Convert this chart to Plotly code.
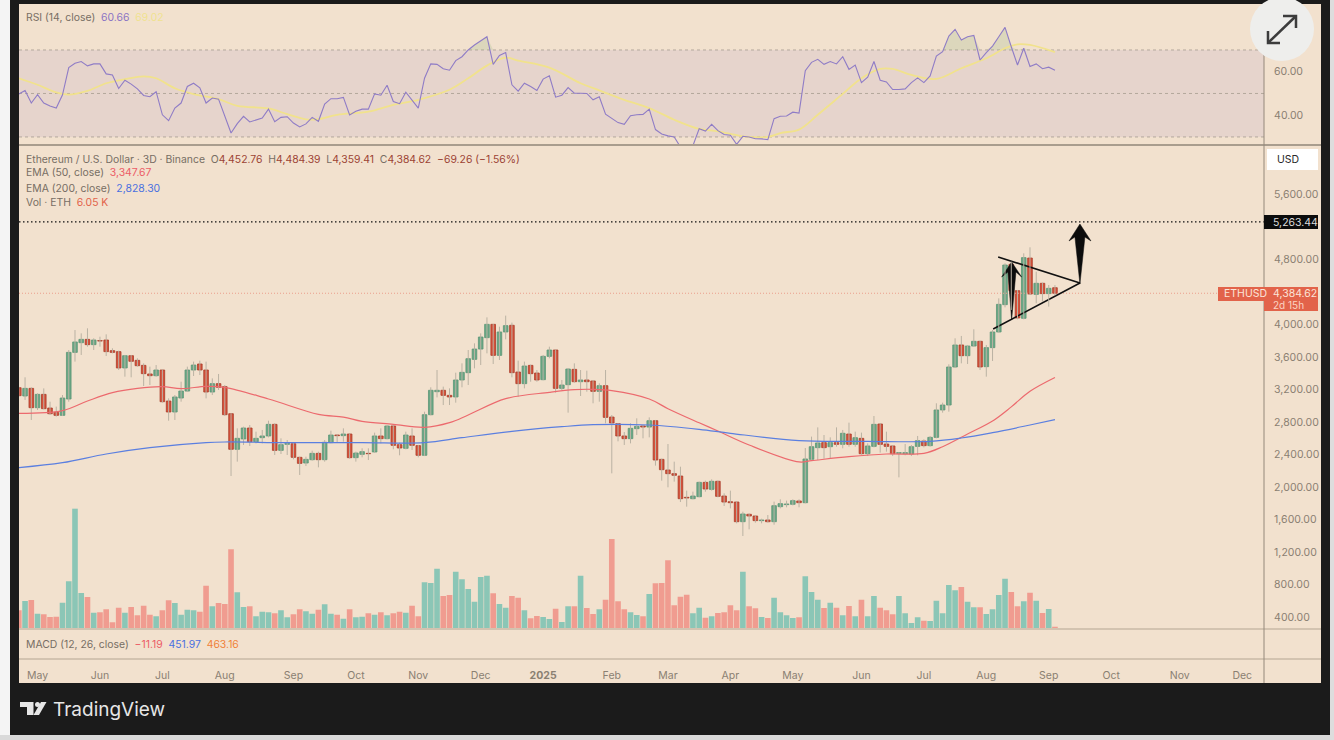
import plotly.graph_objects as go

W, H = 1334, 740

# ETH/USD 3D bars
opens = [
    3222, 3120, 3214, 2976, 3140, 2972, 2919, 2882, 3083, 3657,
    3776, 3817, 3752, 3801, 3809, 3678, 3666, 3465, 3616, 3559,
    3497, 3391, 3370, 3440, 3058, 2923, 3095, 3181, 3440, 3514,
    3440, 3169, 3272, 3235, 2902, 2464, 2591, 2726, 2558, 2607,
    2628, 2771, 2451, 2525, 2533, 2365, 2295, 2336, 2414, 2336,
    2546, 2640, 2632, 2652, 2361, 2402, 2414, 2431, 2628, 2595,
    2751, 2521, 2476, 2628, 2509, 2390, 2890, 3173, 3190, 3128,
    3108, 3317, 3407, 3571, 3698, 3838, 4002, 3620, 3908, 3990,
    3415, 3272, 3497, 3403, 3321, 3608, 3686, 3214, 3259, 3448,
    3296, 3317, 3305, 3177, 3247, 2861, 2779, 2628, 2595, 2718,
    2751, 2738, 2816, 2340, 2209, 2164, 2135, 1873, 1856, 1881,
    2057, 1971, 2070, 1889, 1819, 1815, 1573, 1664, 1643, 1586,
    1594, 1573, 1758, 1783, 1787, 1828, 1807, 2341, 2484, 2546,
    2496, 2546, 2525, 2652, 2525, 2599, 2410, 2500, 2775, 2529,
    2505, 2414, 2410, 2406, 2500, 2566, 2509, 2611, 2948, 3009,
    3477, 3748, 3616, 3735, 3793, 3481, 3715, 3908, 4244, 4741,
    4416, 4076, 4818, 4371, 4507, 4380, 4452.76,
]
highs = [
    3235, 3350, 3227, 3153, 3214, 3050, 2989, 3132, 3686, 3932,
    3891, 3953, 3830, 3850, 3879, 3707, 3678, 3625, 3625, 3584,
    3522, 3481, 3501, 3448, 3091, 3132, 3296, 3481, 3543, 3555,
    3543, 3337, 3391, 3255, 2907, 2722, 2742, 2763, 2681, 2702,
    2816, 2784, 2599, 2578, 2546, 2373, 2373, 2447, 2435, 2578,
    2693, 2648, 2722, 2660, 2435, 2476, 2476, 2669, 2722, 2763,
    2763, 2546, 2681, 2722, 2517, 2927, 3227, 3440, 3235, 3214,
    3407, 3522, 3686, 3768, 3891, 4088, 4006, 3973, 4109, 4023,
    3555, 3543, 3506, 3440, 3625, 3727, 3694, 3317, 3460, 3522,
    3440, 3432, 3317, 3276, 3440, 2886, 2784, 2677, 2784, 2845,
    2763, 2857, 2825, 2349, 2529, 2312, 2250, 1955, 1943, 2066,
    2078, 2094, 2078, 1922, 1955, 1824, 1696, 1676, 1655, 1610,
    1655, 1820, 1848, 1832, 1848, 1848, 2480, 2620, 2734, 2640,
    2611, 2734, 2702, 2792, 2681, 2669, 2537, 2874, 2784, 2681,
    2517, 2428, 2529, 2517, 2628, 2587, 2628, 3030, 3038, 3510,
    3830, 3859, 3748, 3941, 3801, 3748, 3932, 4322, 4753, 4773,
    4425, 4876, 4950, 4650, 4515, 4486, 4484.39,
]
lows = [
    3112, 3071, 2825, 2948, 2956, 2886, 2866, 2874, 3050, 3543,
    3625, 3727, 3686, 3727, 3612, 3645, 3440, 3358, 3350, 3481,
    3243, 3255, 3358, 3038, 2816, 2825, 3050, 3173, 3366, 3378,
    3091, 3132, 3194, 2874, 2135, 2312, 2517, 2505, 2537, 2537,
    2611, 2394, 2406, 2394, 2340, 2148, 2258, 2324, 2242, 2312,
    2537, 2546, 2558, 2349, 2312, 2365, 2332, 2422, 2537, 2587,
    2464, 2390, 2464, 2455, 2365, 2381, 2882, 3103, 3009, 3009,
    3038, 3227, 3255, 3460, 3501, 3645, 3514, 3563, 3817, 3350,
    3112, 3214, 3296, 3296, 3313, 3584, 3161, 3194, 2915, 3284,
    3120, 3173, 3030, 3050, 2784, 2168, 2562, 2517, 2537, 2640,
    2599, 2611, 2263, 2078, 1996, 2066, 1815, 1758, 1848, 1873,
    1942, 1955, 1873, 1766, 1737, 1553, 1397, 1479, 1561, 1553,
    1561, 1536, 1737, 1750, 1774, 1750, 1799, 2324, 2332, 2349,
    2349, 2496, 2476, 2496, 2496, 2398, 2381, 2488, 2423, 2435,
    2381, 2119, 2390, 2381, 2390, 2488, 2496, 2599, 2915, 2927,
    3469, 3522, 3514, 3727, 3440, 3358, 3551, 3900, 4211, 4179,
    4064, 4064, 4363, 4261, 4281, 4220, 4359.41,
]
closes = [
    3124, 3214, 2976, 3140, 2964, 2902, 2882, 3095, 3657, 3785,
    3817, 3752, 3809, 3797, 3666, 3657, 3465, 3616, 3547, 3493,
    3395, 3370, 3440, 3050, 2923, 3108, 3181, 3440, 3501, 3440,
    3169, 3272, 3227, 2890, 2464, 2599, 2726, 2558, 2599, 2628,
    2771, 2451, 2521, 2537, 2365, 2291, 2340, 2414, 2336, 2550,
    2640, 2632, 2652, 2361, 2418, 2435, 2410, 2628, 2595, 2751,
    2513, 2480, 2640, 2513, 2390, 2890, 3190, 3190, 3128, 3108,
    3317, 3411, 3579, 3698, 3846, 4002, 3620, 3908, 3986, 3407,
    3272, 3489, 3395, 3317, 3608, 3686, 3214, 3255, 3452, 3296,
    3317, 3296, 3177, 3247, 2857, 2788, 2628, 2595, 2722, 2747,
    2738, 2816, 2332, 2213, 2164, 2144, 1856, 1865, 1889, 2057,
    1975, 2070, 1885, 1815, 1807, 1573, 1668, 1643, 1586, 1594,
    1573, 1770, 1795, 1791, 1832, 1807, 2345, 2496, 2542, 2484,
    2546, 2525, 2661, 2525, 2607, 2410, 2505, 2771, 2525, 2500,
    2410, 2423, 2423, 2496, 2570, 2509, 2611, 2948, 3009, 3477,
    3748, 3616, 3735, 3793, 3477, 3715, 3908, 4248, 4732, 4416,
    4080, 4823, 4375, 4507, 4380, 4445, 4384.62,
]
volume_k = [
    55, 83, 86, 45, 43, 35, 36, 78, 142, 360,
    107, 95, 48, 49, 58, 19, 63, 48, 65, 40,
    69, 42, 37, 55, 85, 77, 42, 57, 55, 51,
    129, 67, 77, 74, 238, 109, 65, 67, 37, 51,
    49, 46, 55, 34, 43, 58, 52, 45, 57, 73,
    45, 42, 30, 58, 34, 36, 46, 42, 49, 40,
    46, 51, 48, 69, 37, 139, 137, 180, 98, 101,
    171, 148, 119, 81, 155, 159, 106, 74, 63, 98,
    93, 55, 31, 38, 35, 29, 60, 20, 67, 67,
    159, 62, 44, 58, 87, 269, 82, 58, 49, 41,
    37, 104, 136, 137, 205, 70, 96, 102, 46, 63,
    33, 37, 47, 49, 70, 55, 171, 67, 61, 35,
    32, 93, 49, 40, 32, 34, 157, 110, 87, 62,
    78, 63, 40, 68, 37, 87, 37, 98, 63, 55,
    43, 98, 46, 17, 34, 24, 23, 84, 46, 131,
    115, 125, 81, 64, 64, 44, 58, 101, 150, 110,
    67, 82, 108, 84, 47, 59, 6.05,
]
rsi = [
    49.8, 51.4, 45.6, 49.5, 45.6, 44.2, 43.3, 49.4, 61.9, 63.9,
    64.7, 62.7, 63.6, 63.6, 59.0, 58.5, 52.3, 56.1, 54.3, 52.1,
    49.1, 48.5, 50.8, 40.2, 37.5, 43.3, 45.6, 53.2, 54.7, 52.6,
    45.6, 47.9, 47.4, 39.5, 31.8, 36.1, 39.5, 36.9, 37.9, 38.7,
    42.8, 37.0, 39.0, 39.3, 36.4, 34.6, 36.0, 39.0, 37.2, 45.1,
    47.6, 47.6, 48.2, 40.1, 41.8, 42.8, 42.8, 49.8, 49.2, 53.8,
    46.3, 45.3, 50.6, 47.1, 43.3, 57.0, 63.6, 63.4, 61.4, 60.7,
    65.1, 66.9, 70.0, 72.3, 74.1, 76.1, 63.4, 67.5, 68.8, 54.0,
    51.1, 54.7, 53.2, 51.4, 56.6, 58.1, 48.3, 49.2, 52.7, 50.1,
    50.1, 50.0, 47.1, 48.5, 40.5, 38.5, 36.6, 35.8, 39.8, 40.2,
    40.4, 42.8, 33.4, 31.4, 30.5, 30.0, 25.4, 25.4, 26.0, 33.8,
    32.7, 35.8, 32.9, 31.1, 30.8, 26.6, 30.3, 30.0, 29.2, 29.1,
    28.8, 38.4, 39.5, 39.6, 41.4, 41.0, 60.5, 64.3, 65.7, 63.4,
    64.7, 63.6, 66.9, 61.1, 63.1, 55.0, 57.5, 64.7, 56.1, 55.3,
    51.8, 51.8, 52.1, 55.0, 57.2, 55.0, 58.1, 67.2, 69.2, 76.4,
    79.5, 74.6, 76.1, 76.7, 65.4, 68.8, 71.8, 76.1, 80.4, 71.5,
    63.1, 70.8, 62.4, 63.6, 61.4, 62.1, 60.66,
]
rsi_ma_bars = [
    0, 3, 6, 8, 11, 14, 17, 20, 22, 25, 28, 32, 35, 40, 43, 46, 48, 51, 56, 60,
    64, 69, 72, 75, 78, 80, 85, 90, 93, 97, 101, 105, 109, 112, 116, 120, 122,
    125, 128, 132, 135, 138, 140, 143, 147, 151, 155, 158, 160, 162, 166,
]
rsi_ma = [
    57.0, 54.0, 50.5, 49.5, 51.2, 54.7, 56.6, 57.9, 57.0, 52.4, 49.7, 47.4, 44.3,
    43.1, 40.5, 38.1, 38.2, 40.2, 41.6, 44.8, 47.1, 51.7, 57.0, 62.8, 66.5, 65.1,
    61.9, 54.7, 51.4, 47.1, 43.3, 37.9, 33.7, 32.6, 30.3, 30.0, 31.8, 33.4, 40.2,
    49.8, 57.0, 61.3, 61.3, 58.5, 56.7, 61.6, 66.2, 70.8, 72.6, 72.3, 69.02,
]
ema50_bars = [
    0, 7, 11, 15, 19, 23, 26, 30, 33, 40, 48, 52, 55, 60, 65, 69, 72, 78, 85, 89, 92,
    95, 101, 104, 109, 112, 117, 125, 127, 133, 139, 145, 148, 152, 156, 159, 162, 166,
]
ema50 = [
    2907, 2940, 3058, 3161, 3214, 3235, 3210, 3239, 3227, 3083, 2894, 2861, 2808,
    2771, 2734, 2792, 2886, 3087, 3165, 3198, 3202, 3186, 3083, 2964, 2790, 2689,
    2517, 2308, 2324, 2373, 2406, 2414, 2496, 2652, 2812, 2986, 3178, 3347.67,
]
ema200_bars = [
    0, 7, 14, 21, 30, 33, 43, 55, 65, 71, 79, 87, 92, 101, 109, 114, 125, 136, 146,
    151, 156, 162, 166,
]
ema200 = [
    2238, 2299, 2406, 2484, 2546, 2554, 2546, 2546, 2546, 2607, 2685, 2742, 2767,
    2763, 2710, 2661, 2570, 2562, 2562, 2603, 2669, 2763, 2828.30,
]
price_ticks = [400, 800, 1200, 1600, 2000, 2400, 2800, 3200, 3600, 4000, 4800, 5600]
rsi_ticks = [40, 60]
month_bars = [3, 13, 23, 33, 44, 54, 64, 74, 84, 95, 104, 114, 124, 135, 145, 155, 165, 175, 186, 196]
month_labels = [
    "May", "Jun", "Jul", "Aug", "Sep", "Oct", "Nov", "Dec", "<b>2025</b>", "Feb", "Mar",
    "Apr", "May", "Jun", "Jul", "Aug", "Sep", "Oct", "Nov", "Dec",
]
last_price = 4384.62
target_price = 5263.44

# pennant and the two drawn arrows, in bar / price units
pennant_x = [156.9, 170.0, 156.1]
pennant_y = [4831, 4511, 3945]
big_arrow_x = [170.0, 171.77, 170.8, 170.0, 169.2, 168.25, 170.0]
big_arrow_y = [5237, 5028, 5077, 4498, 5077, 5028, 5237]
small_arrow_x = [159.06, 160.66, 159.75, 159.06, 158.47, 157.46, 159.06]
small_arrow_y = [4769, 4585, 4646, 4055, 4646, 4585, 4769]

bars = list(range(len(closes)))
x_range = [0.03, 199.49]
TEXT = "#776e64"
AXIS = "#8a7f72"
BG = "#f2e1ce"
GREEN = "#6aa785"
RED = "#d64f39"
FONT = "Inter"


def px_x(x):
    return x / W


def px_y(y):
    return 1 - y / H


def px_path(points, close=True):
    path = "M " + " L ".join(f"{px_x(x):.5f} {px_y(y):.5f}" for x, y in points)
    return path + (" Z" if close else "")


fig = go.Figure()

# RSI pane
for level in (70, 50, 30):
    fig.add_trace(go.Scatter(x=x_range, y=[level, level], yaxis="y", mode="lines",
                             line=dict(color="#b3a89c", width=1, dash="3px,3px")))
fig.add_trace(go.Scatter(x=bars, y=[70] * len(bars), yaxis="y", mode="lines", line=dict(width=0)))
fig.add_trace(go.Scatter(x=bars, y=[max(v, 70) for v in rsi], yaxis="y", mode="lines",
                         line=dict(width=0), fill="tonexty", fillcolor="rgba(120,170,110,0.18)"))
fig.add_trace(go.Scatter(x=rsi_ma_bars, y=rsi_ma, yaxis="y", mode="lines",
                         line=dict(color="#f1e28c", width=1.8, shape="spline")))
fig.add_trace(go.Scatter(x=bars, y=rsi, yaxis="y", mode="lines", line=dict(color="#8f7cc6", width=1.1)))

# volume
up = [c >= o for o, c in zip(opens, closes)]
fig.add_trace(go.Bar(x=bars, y=volume_k, yaxis="y3", width=0.9,
                     marker=dict(color=["#8bc6b6" if u else "#f09c90" for u in up], line=dict(width=0))))

# price pane: drawings sit under the candles
fig.add_trace(go.Scatter(x=x_range, y=[last_price, last_price], yaxis="y2", mode="lines",
                         line=dict(color="#eb9f8c", width=1, dash="1px,2px")))
fig.add_trace(go.Scatter(x=x_range, y=[target_price, target_price], yaxis="y2", mode="lines",
                         line=dict(color="#111111", width=1.2, dash="1.5px,2.5px")))
fig.add_trace(go.Scatter(x=pennant_x, y=pennant_y, yaxis="y2", mode="lines",
                         line=dict(color="#111111", width=1.6)))
for ax, ay in ((big_arrow_x, big_arrow_y), (small_arrow_x, small_arrow_y)):
    fig.add_trace(go.Scatter(x=ax, y=ay, yaxis="y2", mode="lines", fill="toself", fillcolor="#0c0c0c",
                             line=dict(color="#0c0c0c", width=0.5)))

wick_x, wick_y = [], []
for k in bars:
    wick_x += [k, k, None]
    wick_y += [lows[k], highs[k], None]
fig.add_trace(go.Scatter(x=wick_x, y=wick_y, yaxis="y2", mode="lines", line=dict(color="#bab2a3", width=1)))

for is_up, fill, edge in ((True, GREEN, "#5a9576"), (False, RED, "#a83c2a")):
    idx = [k for k in bars if up[k] == is_up]
    fig.add_trace(go.Bar(
        x=idx,
        y=[abs(closes[k] - opens[k]) for k in idx],
        base=[min(closes[k], opens[k]) for k in idx],
        yaxis="y2",
        width=0.74,
        marker=dict(color=fill, line=dict(color=edge, width=0.8)),
    ))

fig.add_trace(go.Scatter(x=ema50_bars, y=ema50, yaxis="y2", mode="lines",
                         line=dict(color="#ec6a6e", width=1.2, shape="spline")))
fig.add_trace(go.Scatter(x=ema200_bars, y=ema200, yaxis="y2", mode="lines",
                         line=dict(color="#5b7fe0", width=1.2, shape="spline")))


# frame, panes and price tags
def rect(x0, x1, y0, y1, color, layer="above"):
    return dict(type="rect", xref="paper", yref="paper", x0=px_x(x0), x1=px_x(x1), y0=px_y(y0), y1=px_y(y1),
                fillcolor=color, line=dict(width=0), layer=layer)


def rule(x0, x1, y0, y1, color, width):
    return dict(type="line", xref="paper", yref="paper", x0=px_x(x0), x1=px_x(x1), y0=px_y(y0), y1=px_y(y1),
                line=dict(color=color, width=width))


def poly(points, close=True, fill=None, color=None, width=0):
    d = dict(type="path", xref="paper", yref="paper", path=px_path(points, close), line=dict(width=width))
    if fill:
        d["fillcolor"] = fill
    if color:
        d["line"]["color"] = color
    return d


shapes = [
    rect(0, 1334, 735, 740, "#d9d9d9", "below"),
    rect(1330, 1334, 0, 740, "#dddddd", "below"),
    rect(10, 1330, 0, 735, "#1b1b1b", "below"),
    rect(19, 1321, 4, 683, BG, "below"),
    rect(19, 1264, 50, 137, "#e6d4cc", "below"),
    rule(19, 1321, 145, 145, "#a99d8e", 2),
    rule(19, 1321, 629, 629, "#d3c3b0", 2),
    rule(19, 1321, 659, 659, "#d3c3b0", 2),
    rule(1264, 1264, 4, 683, "#94887b", 1),
    rect(1267, 1318, 149, 170, "#ffffff"),
    rect(1264, 1318, 215, 229, "#0c0c0c"),
    rect(1218, 1264, 287, 301, "#e2634a"),
    rect(1264, 1318, 287, 311, "#e2634a"),
    dict(type="circle", xref="paper", yref="paper", x0=px_x(1250), x1=px_x(1314), y0=px_y(-3), y1=px_y(61),
         fillcolor="#eeeeec", line=dict(width=0)),
    poly([(1269, 42), (1296, 16)], False, color="#3c3c3c", width=2.5),
    poly([(1283, 16), (1296, 16), (1296, 28)], False, color="#3c3c3c", width=2.5),
    poly([(1268, 31), (1268, 43), (1280, 43)], False, color="#3c3c3c", width=2.5),
    # TradingView mark
    poly([(20, 702), (33.5, 702), (33.5, 715), (27, 715), (27, 707), (20, 707)], fill="#e6e6e6"),
    dict(type="circle", xref="paper", yref="paper", x0=px_x(35), x1=px_x(40), y0=px_y(702), y1=px_y(707),
         fillcolor="#e6e6e6", line=dict(width=0)),
    poly([(41, 702), (46.5, 702), (39, 715), (33.5, 715)], fill="#e6e6e6"),
]
fig.update_layout(shapes=shapes)


def label(x, y, text, size=10.4, color=TEXT, anchor="left"):
    fig.add_annotation(x=px_x(x), y=px_y(y), xref="paper", yref="paper", text=text, showarrow=False,
                       xanchor=anchor, yanchor="middle", align=anchor, borderpad=0,
                       font=dict(family=FONT, size=size, color=color))


def span(text, color):
    return f'<span style="color:{color}">{text}</span>'


OHLC = "#9c4334"
label(25, 18, "RSI (14, close)  " + span("60.66", "#8b74c4") + "  " + span("69.02", "#f0e190"))
label(25, 159, "Ethereum / U.S. Dollar · 3D · Binance  "
      + "O" + span("4,452.76", OHLC) + "  H" + span("4,484.39", OHLC) + "  L" + span("4,359.41", OHLC)
      + "  C" + span("4,384.62", OHLC) + "  " + span("−69.26 (−1.56%)", OHLC))
label(25, 173, "EMA (50, close)  " + span("3,347.67", "#ec5c66"))
label(25, 188, "EMA (200, close)  " + span("2,828.30", "#4a70e0"))
label(25, 203, "Vol · ETH  " + span("6.05 K", "#e2634a"))
label(25, 644, "MACD (12, 26, close)  " + span("−11.19", "#ec5c66") + "  " + span("451.97", "#4a70e0")
      + "  " + span("463.16", "#f08238"))
label(1276, 159, "USD", size=10.5, color="#2a2a2a")
label(1272, 222, "5,263.44", size=10.5, color="#dcdcdc")
label(1223, 294, "ETHUSD", size=10.5, color="#fbe4d8")
label(1272, 294, "4,384.62", size=10.5, color="#fbe4d8")
label(1272, 305, "2d 15h", size=10, color="#fbd3c2")
label(52, 709, "TradingView", size=19, color="#e6e6e6")

fig.update_layout(
    width=W,
    height=H,
    margin=dict(l=0, r=0, t=0, b=0, pad=0),
    paper_bgcolor="#f4f4f4",
    plot_bgcolor="rgba(0,0,0,0)",
    showlegend=False,
    barmode="overlay",
    hovermode=False,
    font=dict(family=FONT, size=10.5, color=AXIS),
    xaxis=dict(
        domain=[px_x(19), px_x(1264)],
        range=x_range,
        anchor="free",
        position=px_y(660),
        tickmode="array",
        tickvals=month_bars,
        ticktext=month_labels,
        ticks="outside",
        ticklen=5,
        tickcolor="rgba(0,0,0,0)",
        tickfont=dict(color=AXIS, size=10.5),
        showgrid=False,
        zeroline=False,
        showline=False,
    ),
    yaxis=dict(
        domain=[px_y(145), px_y(4)],
        range=[26.3, 91.15],
        side="right",
        tickmode="array",
        tickvals=rsi_ticks,
        tickformat=".2f",
        ticks="outside",
        ticklen=7,
        tickcolor="rgba(0,0,0,0)",
        tickfont=dict(color=AXIS, size=10.5),
        showgrid=False,
        zeroline=False,
    ),
    yaxis2=dict(
        domain=[px_y(629), px_y(146)],
        range=[252.3, 6196.9],
        side="right",
        tickmode="array",
        tickvals=price_ticks,
        tickformat=",.2f",
        ticks="outside",
        ticklen=7,
        tickcolor="rgba(0,0,0,0)",
        tickfont=dict(color=AXIS, size=10.5),
        showgrid=False,
        zeroline=False,
    ),
    yaxis3=dict(
        domain=[px_y(628.7), px_y(146)],
        range=[0, 1448],
        side="right",
        showticklabels=False,
        showgrid=False,
        zeroline=False,
    ),
)

fig.write_html("out.html", config=dict(displayModeBar=False),
               post_script="document.body.style.margin='0';document.body.style.background='#f4f4f4';")
